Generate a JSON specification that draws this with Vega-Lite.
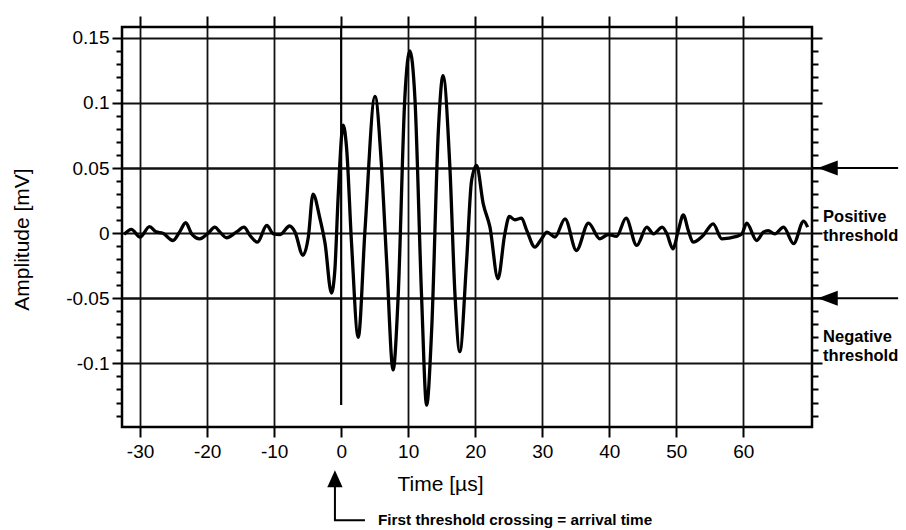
{
  "$schema": "https://vega.github.io/schema/vega-lite/v6.json",
  "width": 690,
  "height": 400,
  "autosize": "none",
  "padding": {"left": 122, "top": 27, "right": 94, "bottom": 103},
  "background": "white",
  "config": {
    "view": {"stroke": "black", "strokeWidth": 2.5},
    "axis": {
      "domain": false,
      "labelFont": "Liberation Sans",
      "titleFont": "Liberation Sans",
      "labelColor": "black",
      "titleColor": "black",
      "tickColor": "black",
      "gridColor": "#111111",
      "titleFontWeight": "normal"
    }
  },
  "datasets": {
    "signal": [
      {"t": -32.4, "a": -0.001}, {"t": -31.3, "a": 0.003}, {"t": -30.0, "a": -0.003},
      {"t": -28.6, "a": 0.005}, {"t": -27.6, "a": 0.001}, {"t": -26.6, "a": 0.0},
      {"t": -25.1, "a": -0.0056}, {"t": -24.1, "a": 0.001}, {"t": -23.2, "a": 0.008},
      {"t": -22.3, "a": -0.0005}, {"t": -21.1, "a": -0.0043}, {"t": -19.85, "a": 0.0},
      {"t": -18.85, "a": 0.0046}, {"t": -18.1, "a": 0.001}, {"t": -17.1, "a": -0.0035},
      {"t": -15.6, "a": 0.001}, {"t": -14.5, "a": 0.0046}, {"t": -13.6, "a": -0.0018},
      {"t": -12.5, "a": -0.0069}, {"t": -11.1, "a": 0.0059}, {"t": -10.1, "a": -0.0005},
      {"t": -9.1, "a": -0.001}, {"t": -7.7, "a": 0.0055}, {"t": -6.9, "a": 0.001},
      {"t": -5.7, "a": -0.017}, {"t": -4.9, "a": -0.003}, {"t": -4.2, "a": 0.030},
      {"t": -3.2, "a": 0.012}, {"t": -2.4, "a": -0.008}, {"t": -1.45, "a": -0.046},
      {"t": -0.95, "a": -0.029}, {"t": -0.45, "a": 0.028}, {"t": 0.3, "a": 0.083},
      {"t": 0.8, "a": 0.066}, {"t": 1.55, "a": -0.008}, {"t": 2.55, "a": -0.080},
      {"t": 3.55, "a": 0.002}, {"t": 5.05, "a": 0.105}, {"t": 6.0, "a": 0.053},
      {"t": 6.8, "a": -0.023}, {"t": 7.75, "a": -0.105}, {"t": 8.5, "a": -0.049},
      {"t": 9.5, "a": 0.104}, {"t": 10.25, "a": 0.140}, {"t": 11.0, "a": 0.104},
      {"t": 12.0, "a": -0.049}, {"t": 12.75, "a": -0.132}, {"t": 13.5, "a": -0.0745},
      {"t": 14.5, "a": 0.0786}, {"t": 15.2, "a": 0.121}, {"t": 16.2, "a": 0.053},
      {"t": 17.0, "a": -0.049}, {"t": 17.7, "a": -0.091}, {"t": 18.7, "a": -0.023},
      {"t": 19.45, "a": 0.040}, {"t": 20.2, "a": 0.052}, {"t": 21.2, "a": 0.0225},
      {"t": 22.2, "a": 0.0046}, {"t": 23.4, "a": -0.035}, {"t": 24.4, "a": -0.001},
      {"t": 25.1, "a": 0.0128}, {"t": 25.9, "a": 0.0103}, {"t": 26.9, "a": 0.0115},
      {"t": 27.7, "a": 0.002}, {"t": 28.9, "a": -0.0107}, {"t": 29.9, "a": -0.0043},
      {"t": 30.7, "a": 0.0008}, {"t": 31.9, "a": -0.003}, {"t": 33.4, "a": 0.011},
      {"t": 35.1, "a": -0.0133}, {"t": 36.9, "a": 0.0077}, {"t": 38.6, "a": -0.0043},
      {"t": 39.85, "a": -0.001}, {"t": 41.1, "a": -0.0025}, {"t": 42.5, "a": 0.0115},
      {"t": 44.1, "a": -0.0094}, {"t": 45.6, "a": 0.0046}, {"t": 46.6, "a": -0.0005},
      {"t": 47.9, "a": 0.0046}, {"t": 48.6, "a": -0.0005}, {"t": 49.5, "a": -0.012},
      {"t": 50.3, "a": 0.002}, {"t": 51.05, "a": 0.014}, {"t": 51.8, "a": 0.002},
      {"t": 52.5, "a": -0.0069}, {"t": 54.0, "a": -0.0018}, {"t": 55.5, "a": 0.0072},
      {"t": 56.8, "a": -0.0043}, {"t": 59.0, "a": -0.0025}, {"t": 59.8, "a": -0.0005},
      {"t": 60.5, "a": 0.0077}, {"t": 62.0, "a": -0.0056}, {"t": 63.0, "a": 0.0008},
      {"t": 63.7, "a": 0.002}, {"t": 64.7, "a": -0.0005}, {"t": 66.0, "a": 0.0046},
      {"t": 67.5, "a": -0.008}, {"t": 69.0, "a": 0.0092}, {"t": 69.6, "a": 0.0046}
    ],
    "marker": [{"t": 0, "top": 0.1583, "bottom": -0.132}],
    "thresholds": [
      {"level": 0.05, "from": 70.25, "to": 83.1, "head": 72.6},
      {"level": -0.05, "from": 70.25, "to": 83.1, "head": 72.6}
    ],
    "thresholdLabels": [
      {"t": 71.9, "a": 0.0088, "label": ["Positive", "threshold"]},
      {"t": 71.9, "a": -0.0838, "label": ["Negative", "threshold"]}
    ],
    "arrowHead": [{"t": -0.93, "a": -0.1886}],
    "connector": [
      {"o": 1, "t": -0.93, "a": -0.1886},
      {"o": 2, "t": -0.93, "a": -0.2204},
      {"o": 3, "t": 3.55, "a": -0.2204}
    ],
    "note": [{"t": 5.5, "a": -0.2204, "label": "First threshold crossing = arrival time"}]
  },
  "layer": [
    {
      "data": {"name": "signal"},
      "mark": {"type": "line", "color": "black", "strokeWidth": 3.3, "interpolate": "monotone"},
      "encoding": {
        "x": {
          "field": "t", "type": "quantitative",
          "scale": {"domain": [-32.7, 70.25], "nice": false, "zero": false},
          "axis": {
            "orient": "bottom",
            "values": [-30, -20, -10, 0, 10, 20, 30, 40, 50, 60],
            "labelExpr": "'' + datum.value",
            "labelFontSize": 19,
            "labelPadding": 5,
            "tickSize": 10,
            "tickWidth": 2,
            "grid": true,
            "gridWidth": 1.8,
            "gridOpacity": {"condition": {"test": "datum.value == 0", "value": 0}, "value": 1},
            "title": "Time [µs]",
            "titleFontSize": 21,
            "titleAlign": "left",
            "titleAnchor": null,
            "titleX": 275,
            "titleY": 63,
            "titleBaseline": "alphabetic"
          }
        },
        "y": {
          "field": "a", "type": "quantitative",
          "scale": {"domain": [-0.1488, 0.1583], "nice": false, "zero": false},
          "axis": {
            "orient": "left",
            "values": [-0.14, -0.13, -0.12, -0.11, -0.1, -0.09, -0.08, -0.07, -0.06, -0.05, -0.04, -0.03, -0.02, -0.01, 0, 0.01, 0.02, 0.03, 0.04, 0.05, 0.06, 0.07, 0.08, 0.09, 0.1, 0.11, 0.12, 0.13, 0.14, 0.15],
            "labelExpr": "abs(round(datum.value * 100) % 5) == 0 ? '' + datum.value : ''",
            "labelFontSize": 19,
            "labelPadding": 3,
            "tickWidth": 2,
            "tickSize": {"condition": {"test": "abs(round(datum.value * 100) % 5) == 0", "value": 10}, "value": 6},
            "grid": true,
            "gridOpacity": {"condition": {"test": "abs(round(datum.value * 100) % 5) == 0", "value": 1}, "value": 0},
            "gridWidth": {"condition": {"test": "abs(round(datum.value * 100)) == 5", "value": 2.6}, "value": 1.8},
            "title": "Amplitude [mV]",
            "titleFontSize": 21,
            "titleAngle": -90,
            "titleAlign": "center",
            "titleAnchor": null,
            "titleX": -94,
            "titleY": 212,
            "titleBaseline": "alphabetic"
          }
        }
      }
    },
    {
      "data": {"name": "marker"},
      "mark": {"type": "rule", "color": "black", "strokeWidth": 2.2},
      "encoding": {
        "x": {
          "field": "t", "type": "quantitative",
          "scale": {"domain": [-32.7, 70.25], "nice": false, "zero": false},
          "axis": {
            "orient": "top",
            "values": [-30, -20, -10, 0, 10, 20, 30, 40, 50, 60],
            "labels": false,
            "tickSize": 11,
            "tickWidth": 2,
            "grid": false,
            "title": null
          }
        },
        "y": {
          "field": "top", "type": "quantitative",
          "scale": {"domain": [-0.1488, 0.1583], "nice": false, "zero": false},
          "axis": {
            "orient": "right",
            "values": [-0.14, -0.13, -0.12, -0.11, -0.1, -0.09, -0.08, -0.07, -0.06, -0.05, -0.04, -0.03, -0.02, -0.01, 0, 0.01, 0.02, 0.03, 0.04, 0.05, 0.06, 0.07, 0.08, 0.09, 0.1, 0.11, 0.12, 0.13, 0.14, 0.15],
            "labels": false,
            "tickWidth": 2,
            "tickSize": {"condition": {"test": "abs(round(datum.value * 100) % 5) == 0", "value": 10}, "value": 6},
            "grid": false,
            "title": null
          }
        },
        "y2": {"field": "bottom"}
      }
    },
    {
      "data": {"name": "thresholds"},
      "mark": {"type": "rule", "color": "black", "strokeWidth": 2},
      "encoding": {
        "x": {"field": "from", "type": "quantitative", "scale": {"domain": [-32.7, 70.25], "nice": false, "zero": false}, "axis": null},
        "x2": {"field": "to"},
        "y": {"field": "level", "type": "quantitative", "scale": {"domain": [-0.1488, 0.1583], "nice": false, "zero": false}, "axis": null}
      }
    },
    {
      "data": {"name": "thresholds"},
      "mark": {"type": "point", "shape": "M-1,0L1,-0.75L1,0.75Z", "filled": true, "color": "black", "opacity": 1, "size": 400},
      "encoding": {
        "x": {"field": "head", "type": "quantitative", "scale": {"domain": [-32.7, 70.25], "nice": false, "zero": false}, "axis": null},
        "y": {"field": "level", "type": "quantitative", "scale": {"domain": [-0.1488, 0.1583], "nice": false, "zero": false}, "axis": null}
      }
    },
    {
      "data": {"name": "thresholdLabels"},
      "mark": {"type": "text", "align": "left", "baseline": "alphabetic", "font": "Liberation Sans", "fontWeight": "bold", "fontSize": 16.5, "lineHeight": 19, "color": "black"},
      "encoding": {
        "x": {"field": "t", "type": "quantitative", "scale": {"domain": [-32.7, 70.25], "nice": false, "zero": false}, "axis": null},
        "y": {"field": "a", "type": "quantitative", "scale": {"domain": [-0.1488, 0.1583], "nice": false, "zero": false}, "axis": null},
        "text": {"field": "label"}
      }
    },
    {
      "data": {"name": "connector"},
      "mark": {"type": "line", "color": "black", "strokeWidth": 2},
      "encoding": {
        "x": {"field": "t", "type": "quantitative", "scale": {"domain": [-32.7, 70.25], "nice": false, "zero": false}, "axis": null},
        "y": {"field": "a", "type": "quantitative", "scale": {"domain": [-0.1488, 0.1583], "nice": false, "zero": false}, "axis": null},
        "order": {"field": "o", "type": "quantitative"}
      }
    },
    {
      "data": {"name": "arrowHead"},
      "mark": {"type": "point", "shape": "M0,-1L-0.9,1L0.9,1Z", "filled": true, "color": "black", "opacity": 1, "size": 289},
      "encoding": {
        "x": {"field": "t", "type": "quantitative", "scale": {"domain": [-32.7, 70.25], "nice": false, "zero": false}, "axis": null},
        "y": {"field": "a", "type": "quantitative", "scale": {"domain": [-0.1488, 0.1583], "nice": false, "zero": false}, "axis": null}
      }
    },
    {
      "data": {"name": "note"},
      "mark": {"type": "text", "align": "left", "baseline": "middle", "font": "Liberation Sans", "fontWeight": "bold", "fontSize": 15.3, "color": "black"},
      "encoding": {
        "x": {"field": "t", "type": "quantitative", "scale": {"domain": [-32.7, 70.25], "nice": false, "zero": false}, "axis": null},
        "y": {"field": "a", "type": "quantitative", "scale": {"domain": [-0.1488, 0.1583], "nice": false, "zero": false}, "axis": null},
        "text": {"field": "label"}
      }
    }
  ],
  "resolve": {"axis": {"x": "independent", "y": "independent"}}
}
